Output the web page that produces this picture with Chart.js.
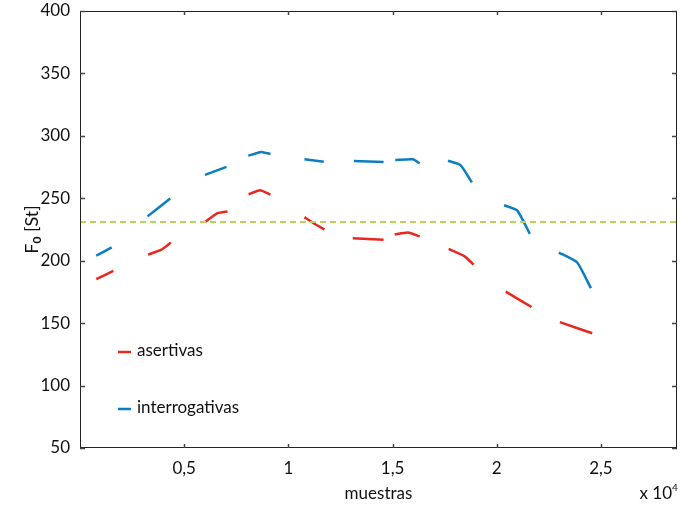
<!DOCTYPE html>
<html>
<head>
<meta charset="utf-8">
<script src="https://cdn.jsdelivr.net/npm/chart.js@4.4.1/dist/chart.umd.min.js"></script>
<style>
    html, body { margin: 0; padding: 0; background: #fff; }
    #wrap { width: 681px; height: 509px; position: relative; }
</style>
</head>
<body>
<div id="wrap"><canvas id="f0Chart"></canvas></div>
<script>
// muestras (x 10^4); null marks a gap in the contour
const xAsertivas = [0.078, 0.160, null, 0.327, 0.388, 0.436, null, 0.601, 0.660, 0.708, null,
    0.809, 0.864, 0.914, null, 1.077, 1.125, 1.173, null, 1.309, 1.457, null,
    1.510, 1.574, 1.630, null, 1.769, 1.846, 1.889, null, 2.043, 2.167, null, 2.303, 2.458];
const yAsertivas = [185.2, 191.9, null, 204.8, 208.6, 214.5, null, 231.2, 238.1, 239.5, null,
    253.2, 256.5, 253.0, null, 234.9, 229.6, 225.0, null, 218.0, 216.7, null,
    221.0, 222.6, 219.4, null, 209.4, 203.5, 196.8, null, 175.2, 162.9, null, 150.8, 141.9];

const xInterrog = [0.078, 0.152, null, 0.324, 0.433, null, 0.600, 0.703, null,
    0.808, 0.869, 0.914, null, 1.077, 1.170, null, 1.314, 1.457, null,
    1.513, 1.598, 1.630, null, 1.766, 1.826, 1.881, null, 2.035, 2.098, 2.159, null,
    2.298, 2.386, 2.452];
const yInterrog = [204.0, 210.7, null, 235.5, 249.8, null, 268.8, 275.2, null,
    284.1, 287.1, 285.5, null, 281.2, 279.3, null, 279.8, 279.0, null,
    280.6, 281.2, 278.0, null, 280.1, 276.6, 262.7, null, 244.4, 240.3, 221.5, null,
    206.5, 198.6, 178.0];

const refLevel = 231;
const xRange = [0, 2.865];
const xTicks = [0.5, 1, 1.5, 2, 2.5];
const xTickLabels = ['0,5', '1', '1,5', '2', '2,5'];
const yTicks = [50, 100, 150, 200, 250, 300, 350, 400];

const RED = '#e8281e';
const BLUE = '#0b7dc2';
const GREEN = '#b8d25a';
const FONT = 'Lato, "Open Sans", sans-serif';

function toPoints(xs, ys) {
    return xs.map((x, i) => ({ x: x, y: ys[i] }));
}

// frame, inward ticks, axis titles and legend
const decorPlugin = {
    id: 'decor',
    afterDraw(chart) {
        const ctx = chart.ctx;
        const area = chart.chartArea;
        const xs = chart.scales.x;
        const ys = chart.scales.y;
        ctx.save();

        ctx.strokeStyle = '#222';
        ctx.lineWidth = 1;
        ctx.strokeRect(area.left + 0.5, area.top + 0.5, area.width - 1, area.height - 1);

        ctx.strokeStyle = '#444';
        ctx.lineWidth = 1.5;
        ctx.beginPath();
        xTicks.forEach(v => {
            const px = Math.round(xs.getPixelForValue(v)) + 0.5;
            ctx.moveTo(px, area.bottom); ctx.lineTo(px, area.bottom - 4);
            ctx.moveTo(px, area.top); ctx.lineTo(px, area.top + 4);
        });
        yTicks.forEach(v => {
            const py = Math.round(ys.getPixelForValue(v)) + 0.5;
            ctx.moveTo(area.left, py); ctx.lineTo(area.left + 5, py);
            ctx.moveTo(area.right, py); ctx.lineTo(area.right - 5, py);
        });
        ctx.stroke();

        ctx.fillStyle = '#111';
        ctx.font = '17px ' + FONT;
        ctx.textAlign = 'center';
        ctx.textBaseline = 'middle';
        ctx.fillText('muestras', (area.left + area.right) / 2, 494);

        ctx.textAlign = 'right';
        ctx.font = '17px ' + FONT;
        ctx.fillText('x 10', 672, 494);
        ctx.font = '10px ' + FONT;
        ctx.textAlign = 'left';
        ctx.fillText('4', 672, 488);

        // y title: F0 [St]
        ctx.translate(32, (area.top + area.bottom) / 2);
        ctx.rotate(-Math.PI / 2);
        ctx.textAlign = 'left';
        ctx.font = '18px ' + FONT;
        const w1 = ctx.measureText('F').width;
        ctx.font = 'bold 12px ' + FONT;
        const w2 = ctx.measureText('0').width;
        ctx.font = '18px ' + FONT;
        const w3 = ctx.measureText(' [St]').width;
        let tx = -(w1 + w2 + w3) / 2;
        ctx.fillText('F', tx, 0);
        tx += w1;
        ctx.font = 'bold 12px ' + FONT;
        ctx.fillText('0', tx, 5);
        tx += w2;
        ctx.font = '18px ' + FONT;
        ctx.fillText(' [St]', tx, 0);
        ctx.setTransform(1, 0, 0, 1, 0, 0);

        // legend
        const items = chart.data.datasets.filter(d => d.legendY);
        ctx.font = '17px ' + FONT;
        ctx.textAlign = 'left';
        ctx.textBaseline = 'middle';
        items.forEach(d => {
            ctx.strokeStyle = d.borderColor;
            ctx.lineWidth = 2.5;
            ctx.beginPath();
            ctx.moveTo(118, d.legendY);
            ctx.lineTo(131, d.legendY);
            ctx.stroke();
            ctx.fillStyle = '#111';
            ctx.fillText(d.label, 137, d.legendY - 1);
        });
        ctx.restore();
    }
};

const ctx = document.getElementById('f0Chart').getContext('2d');
new Chart(ctx, {
    type: 'line',
    data: {
        datasets: [
            {
                label: 'referencia',
                data: [{ x: xRange[0], y: refLevel }, { x: xRange[1], y: refLevel }],
                borderColor: GREEN,
                borderWidth: 2,
                borderDash: [6, 4],
                pointRadius: 0,
            },
            {
                label: 'asertivas',
                data: toPoints(xAsertivas, yAsertivas),
                borderColor: RED,
                borderWidth: 2.5,
                pointRadius: 0,
                tension: 0.15,
                spanGaps: false,
                legendY: 352,
            },
            {
                label: 'interrogativas',
                data: toPoints(xInterrog, yInterrog),
                borderColor: BLUE,
                borderWidth: 2.5,
                pointRadius: 0,
                tension: 0.15,
                spanGaps: false,
                legendY: 409,
            },
        ],
    },
    options: {
        responsive: true,
        maintainAspectRatio: false,
        animation: false,
        layout: {
            padding: { top: 11, right: 4, left: 0, bottom: 0 },
        },
        plugins: {
            legend: { display: false },
            tooltip: { enabled: false },
        },
        scales: {
            x: {
                type: 'linear',
                min: xRange[0],
                max: xRange[1],
                afterBuildTicks: scale => {
                    scale.ticks = xTicks.map(v => ({ value: v }));
                },
                afterFit: scale => {
                    scale.height = 61;
                    scale.paddingLeft = 0;
                    scale.paddingRight = 0;
                },
                grid: { display: false, drawTicks: false },
                border: { display: false },
                ticks: {
                    color: '#111',
                    padding: 10,
                    maxRotation: 0,
                    font: { family: FONT, size: 17 },
                    callback: v => xTickLabels[xTicks.indexOf(v)] ?? '',
                },
            },
            y: {
                min: 50,
                max: 400,
                afterBuildTicks: scale => {
                    scale.ticks = yTicks.map(v => ({ value: v }));
                },
                afterFit: scale => {
                    scale.width = 80;
                    scale.paddingTop = 0;
                    scale.paddingBottom = 0;
                },
                grid: { display: false, drawTicks: false },
                border: { display: false },
                ticks: {
                    color: '#111',
                    padding: 10,
                    font: { family: FONT, size: 17 },
                },
            },
        },
    },
    plugins: [decorPlugin],
});
</script>
</body>
</html>
